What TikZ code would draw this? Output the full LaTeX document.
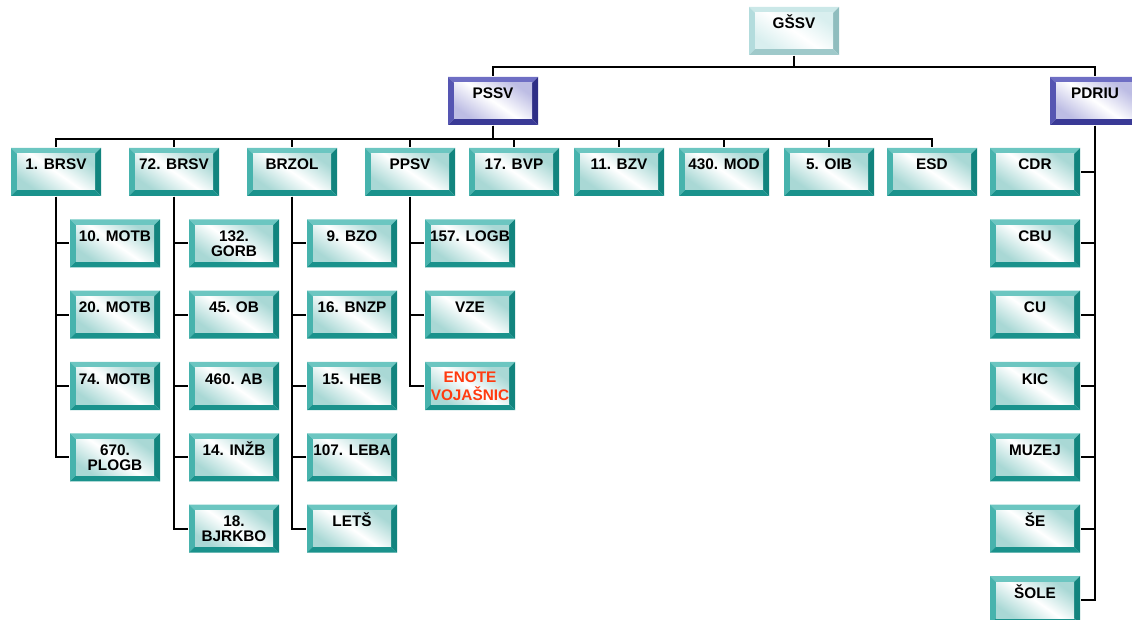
\documentclass[tikz,border=0pt]{standalone}
\usepackage{fontspec}
\setmainfont{Liberation Sans}
\definecolor{tealtop}{HTML}{6CC6C1}
\definecolor{tealleft}{HTML}{47B3AD}
\definecolor{tealright}{HTML}{12847E}
\definecolor{tealbot}{HTML}{1A928C}
\definecolor{tealface}{HTML}{A9D8D5}
\definecolor{paletop}{HTML}{CBE8E8}
\definecolor{paleleft}{HTML}{B3DCDD}
\definecolor{paleright}{HTML}{8FBDBE}
\definecolor{palebot}{HTML}{9FC9CA}
\definecolor{paleface}{HTML}{D9EFEF}
\definecolor{bluetop}{HTML}{6E6EC4}
\definecolor{blueleft}{HTML}{5555B2}
\definecolor{blueright}{HTML}{2E2E86}
\definecolor{bluebot}{HTML}{3A3A96}
\definecolor{blueface}{HTML}{BDBDE4}
\definecolor{enotered}{HTML}{FF3B10}
\tikzset{
  bevel/.style n args={5}{
    rectangle, minimum width=67.5pt, minimum height=36pt, inner sep=0pt,
    align=center, font=\bfseries\fontsize{11.5}{11.3}\selectfont,
    path picture={
      \coordinate (bnw) at (path picture bounding box.north west);
      \coordinate (bne) at (path picture bounding box.north east);
      \coordinate (bsw) at (path picture bounding box.south west);
      \coordinate (bse) at (path picture bounding box.south east);
      \fill[#1] (bnw) -- (bne) -- ([shift={(-4.5pt,-4.5pt)}]bne) -- ([shift={(4.5pt,-4.5pt)}]bnw) -- cycle;
      \fill[#2] (bnw) -- (bsw) -- ([shift={(4.5pt,4.5pt)}]bsw) -- ([shift={(4.5pt,-4.5pt)}]bnw) -- cycle;
      \fill[#3] (bne) -- (bse) -- ([shift={(-4.5pt,4.5pt)}]bse) -- ([shift={(-4.5pt,-4.5pt)}]bne) -- cycle;
      \fill[#4] (bsw) -- (bse) -- ([shift={(-4.5pt,4.5pt)}]bse) -- ([shift={(4.5pt,4.5pt)}]bsw) -- cycle;
      \shade[top color=#5, bottom color=#5, middle color=white, shading angle=-35]
        ([shift={(4.5pt,-4.5pt)}]bnw) rectangle ([shift={(-4.5pt,4.5pt)}]bse);
    }},
  unit/.style={bevel={tealtop}{tealleft}{tealright}{tealbot}{tealface}},
  staff/.style={bevel={bluetop}{blueleft}{blueright}{bluebot}{blueface}},
  chief/.style={bevel={paletop}{paleleft}{paleright}{palebot}{paleface}},
  oneline/.style={text height=8.5pt, text depth=11.5pt}
}
\begin{document}
\begin{tikzpicture}[x=0.75pt, y=-0.75pt, line width=1.4pt]
  \useasboundingbox (0,0) rectangle (1132,620);
  % top of the tree
  \node[chief, oneline] (gssv) at (794,31) {GŠSV};
  \node[staff, oneline] (pssv) at (493,101) {PSSV};
  \node[staff, oneline] (pdriu) at (1095,101) {PDRIU};
  % second row
  \node[unit, oneline] (brsva) at (56,172) {1. BRSV};
  \node[unit, oneline] (brsvb) at (174,172) {72. BRSV};
  \node[unit, oneline] (brzol) at (292,172) {BRZOL};
  \node[unit, oneline] (ppsv) at (410,172) {PPSV};
  \node[unit, oneline] (bvp) at (514,172) {17. BVP};
  \node[unit, oneline] (bzv) at (619,172) {11. BZV};
  \node[unit, oneline] (mod) at (724,172) {430. MOD};
  \node[unit, oneline] (oib) at (829,172) {5. OIB};
  \node[unit, oneline] (esd) at (932,172) {ESD};
  % under 1. BRSV
  \node[unit, oneline] (motba) at (115,243.3) {10. MOTB};
  \node[unit, oneline] (motbb) at (115,314.7) {20. MOTB};
  \node[unit, oneline] (motbc) at (115,386) {74. MOTB};
  \node[unit] (plogb) at (115,457.3) {670.\\PLOGB};
  % under 72. BRSV
  \node[unit] (gorb) at (234,243.3) {132.\\GORB};
  \node[unit, oneline] (ob) at (234,314.7) {45. OB};
  \node[unit, oneline] (ab) at (234,386) {460. AB};
  \node[unit, oneline] (inzb) at (234,457.3) {14. INŽB};
  \node[unit] (bjrkbo) at (234,528.7) {18.\\BJRKBO};
  % under BRZOL
  \node[unit, oneline] (bzo) at (352,243.3) {9. BZO};
  \node[unit, oneline] (bnzp) at (352,314.7) {16. BNZP};
  \node[unit, oneline] (heb) at (352,386) {15. HEB};
  \node[unit, oneline] (leba) at (352,457.3) {107. LEBA};
  \node[unit, oneline] (lets) at (352,528.7) {LETŠ};
  % under PPSV
  \node[unit, oneline] (logb) at (470,243.3) {157. LOGB};
  \node[unit, oneline] (vze) at (470,314.7) {VZE};
  \node[unit, text=enotered, font=\bfseries\fontsize{11.5}{13.5}\selectfont] (enote) at (470,386) {ENOTE\\VOJAŠNIC};
  % under PDRIU
  \node[unit, oneline] (cdr) at (1035,172) {CDR};
  \node[unit, oneline] (cbu) at (1035,243.3) {CBU};
  \node[unit, oneline] (cu) at (1035,314.7) {CU};
  \node[unit, oneline] (kic) at (1035,386) {KIC};
  \node[unit, oneline] (muzej) at (1035,457.3) {MUZEJ};
  \node[unit, oneline] (se) at (1035,528.7) {ŠE};
  \node[unit, oneline] (sole) at (1035,600) {ŠOLE};
  % connectors
  \draw (gssv.south) -- ++(0,11) -| (pssv.north);
  \draw (gssv.south) -- ++(0,11) -| (pdriu.north);
  \foreach \n in {brsva,brsvb,brzol,ppsv,bvp,bzv,mod,oib,esd}
  {
      \draw (pssv.south) -- ++(0,13) -| (\n.north);
  }
  \foreach \p/\c in {brsva/motba,brsva/motbb,brsva/motbc,brsva/plogb,
      brsvb/gorb,brsvb/ob,brsvb/ab,brsvb/inzb,brsvb/bjrkbo,
      brzol/bzo,brzol/bnzp,brzol/heb,brzol/leba,brzol/lets,
      ppsv/logb,ppsv/vze,ppsv/enote}
  {
      \draw (\p.south) |- (\c.west);
  }
  \foreach \c in {cdr,cbu,cu,kic,muzej,se,sole}
  {
      \draw (pdriu.south) |- (\c.east);
  }
\end{tikzpicture}
\end{document}
